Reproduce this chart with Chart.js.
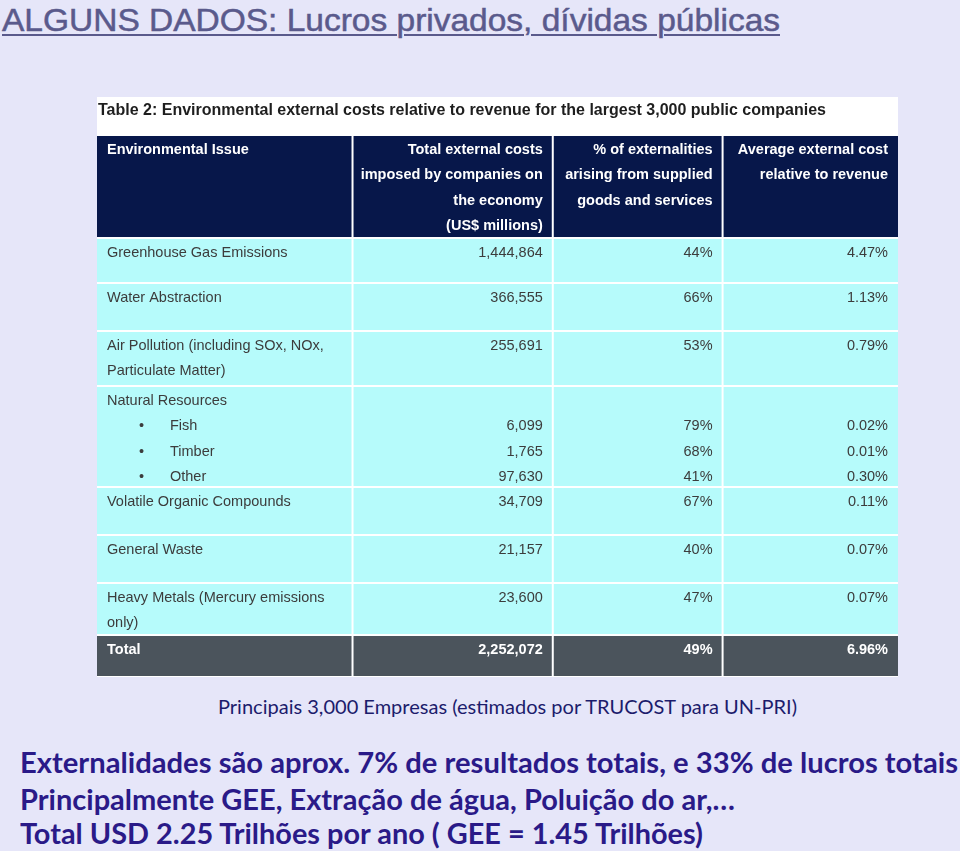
<!DOCTYPE html>
<html>
<head>
<meta charset="utf-8">
<script src="https://cdn.jsdelivr.net/npm/chart.js@4.4.1/dist/chart.umd.min.js"></script>
<style>
  body { margin: 0; width: 960px; height: 851px; background: #e6e6f9; position: relative; overflow: hidden; }
  .txt { position: absolute; white-space: nowrap; line-height: 1; transform-origin: 0 50%; }
  #title { left: 2px; top: 2px; font: 32px 'Liberation Sans', Arial, sans-serif; color: #5a5a8c; -webkit-text-stroke: 0.5px #5a5a8c; text-decoration: underline; text-decoration-thickness: 2px; text-underline-offset: 3px; }
  #caption { left: 218px; top: 695px; font: 19px Lato, sans-serif; color: #1c1c6c; }
  .note { left: 20px; font: bold 28px Lato, sans-serif; color: #2a1a88; }
  #wrap { position: absolute; left: 97px; top: 97px; width: 801px; height: 580px; }
</style>
</head>
<body>
<div id="title" class="txt" data-w="778">ALGUNS DADOS: Lucros privados, dívidas públicas</div>
<div id="wrap"><canvas id="table" width="801" height="580"></canvas></div>
<div id="caption" class="txt" data-w="579">Principais 3,000 Empresas (estimados por TRUCOST para UN-PRI)</div>
<div class="txt note" style="top:745px" data-w="938">Externalidades são aprox. 7% de resultados totais, e 33% de lucros totais</div>
<div class="txt note" style="top:782px" data-w="715">Principalmente GEE, Extração de água, Poluição do ar,…</div>
<div class="txt note" style="top:816px" data-w="683">Total USD 2.25 Trilhões por ano ( GEE = 1.45 Trilhões)</div>

<script>
// table data (Trucost / UN-PRI, table 2)
const tableTitle = 'Table 2: Environmental external costs relative to revenue for the largest 3,000 public companies';
const headers = [
  'Environmental Issue',
  'Total external costs\nimposed by companies on\nthe economy\n(US$ millions)',
  '% of externalities\narising from supplied\ngoods and services',
  'Average external cost\nrelative to revenue'
];
const issues = [
  'Greenhouse Gas Emissions',
  'Water Abstraction',
  'Air Pollution (including SOx, NOx,\nParticulate Matter)',
  'Fish',
  'Timber',
  'Other',
  'Volatile Organic Compounds',
  'General Waste',
  'Heavy Metals (Mercury emissions\nonly)'
];
const groupLabel = 'Natural Resources';
const groupItems = ['Fish', 'Timber', 'Other'];
const costs = [1444864, 366555, 255691, 6099, 1765, 97630, 34709, 21157, 23600];
const supplyShare = [44, 66, 53, 79, 68, 41, 67, 40, 47];
const revenueShare = [4.47, 1.13, 0.79, 0.02, 0.01, 0.30, 0.11, 0.07, 0.07];
const total = ['Total', 2252072, 49, 6.96];

// layout: column edges in % of table width, row heights in px
const colEdges = [0, 31.9, 56.9, 78.1, 100];
const titleH = 38;
const headerH = 103;
const rowHeights = [45, 48, 55, 101, 48, 48, 52];
const totalH = 42;
const lineH = 25.4;

// group the flat issue list into table rows
const rows = [];
issues.forEach((name, i) => {
  const vals = [costs[i].toLocaleString('en-US'), supplyShare[i] + '%', revenueShare[i].toFixed(2) + '%'];
  if (groupItems.includes(name)) {
    let g = rows.find(r => r.group);
    if (!g) { g = { group: true, lines: [{ label: groupLabel, vals: null }] }; rows.push(g); }
    g.lines.push({ label: name, bullet: true, vals });
  } else {
    const parts = name.split('\n');
    rows.push({ lines: parts.map((p, k) => ({ label: p, vals: k === 0 ? vals : null })) });
  }
});

const tablePlugin = {
  id: 'tablePlugin',
  afterDraw(chart) {
    const ctx = chart.ctx;
    const sx = chart.scales.x, sy = chart.scales.y;
    const X = v => sx.getPixelForValue(v);
    const Y = v => sy.getPixelForValue(v);
    const font = '14.5px "Liberation Sans", Arial, sans-serif';
    const bold = 'bold 14.5px "Liberation Sans", Arial, sans-serif';
    ctx.save();
    ctx.textBaseline = 'middle';

    // white backing (title band + cell gaps)
    ctx.fillStyle = '#ffffff';
    ctx.fillRect(X(0), Y(0), X(100) - X(0), Y(sy.max) - Y(0));
    ctx.fillStyle = '#1e1e1e';
    ctx.font = 'bold 16px "Liberation Sans", Arial, sans-serif';
    ctx.textAlign = 'left';
    ctx.fillText(tableTitle, X(0) + 1, Y(14));

    const cell = (top, h, fill) => {
      for (let c = 0; c < 4; c++) {
        ctx.fillStyle = fill;
        ctx.fillRect(X(colEdges[c]) + (c ? 1 : 0), Y(top) + 1, X(colEdges[c + 1]) - X(colEdges[c]) - (c ? 1 : 0) - (c < 3 ? 1 : 0), Y(top + h) - Y(top) - 2);
      }
    };
    const cellText = (c, cy, text) => {
      if (c === 0) { ctx.textAlign = 'left'; ctx.fillText(text, X(colEdges[0]) + 10, cy); }
      else { ctx.textAlign = 'right'; ctx.fillText(text, X(colEdges[c + 1]) - 10, cy); }
    };

    // header
    let top = titleH;
    cell(top, headerH, '#07174a');
    ctx.fillStyle = '#ffffff';
    ctx.font = bold;
    headers.forEach((h, c) => h.split('\n').forEach((ln, k) => cellText(c, Y(top + 15 + k * lineH), ln)));
    top += headerH;

    // body rows
    rows.forEach((r, i) => {
      const h = rowHeights[i];
      cell(top, h, '#b6fbfb');
      ctx.font = font;
      ctx.fillStyle = '#3c3c3c';
      r.lines.forEach((ln, k) => {
        const cy = Y(top + 15 + k * lineH);
        if (ln.bullet) {
          ctx.textAlign = 'left';
          ctx.fillText('•', X(colEdges[0]) + 42, cy);
          ctx.fillText(ln.label, X(colEdges[0]) + 73, cy);
        } else {
          cellText(0, cy, ln.label);
        }
        if (ln.vals) ln.vals.forEach((v, c) => cellText(c + 1, cy, v));
      });
      top += h;
    });

    // total row
    cell(top, totalH, '#4b545c');
    ctx.fillStyle = '#ffffff';
    ctx.font = bold;
    const tv = [total[0], total[1].toLocaleString('en-US'), total[2] + '%', total[3].toFixed(2) + '%'];
    tv.forEach((t, c) => cellText(c, Y(top + 15), t));
    ctx.restore();
  }
};

const fullH = titleH + headerH + rowHeights.reduce((a, b) => a + b, 0) + totalH;

new Chart(document.getElementById('table').getContext('2d'), {
  type: 'scatter',
  data: { datasets: [] },
  options: {
    responsive: false,
    animation: false,
    events: [],
    layout: { padding: 0 },
    plugins: { legend: { display: false }, tooltip: { enabled: false } },
    scales: {
      x: { type: 'linear', min: 0, max: 100, display: false },
      y: { type: 'linear', min: 0, max: fullH, reverse: true, display: false }
    }
  },
  plugins: [tablePlugin]
});

// squeeze the slide texts to the widths of the original
document.querySelectorAll('.txt').forEach(el => {
  const w = el.getBoundingClientRect().width;
  el.style.transform = `scaleX(${el.dataset.w / w})`;
});
</script>
</body>
</html>
